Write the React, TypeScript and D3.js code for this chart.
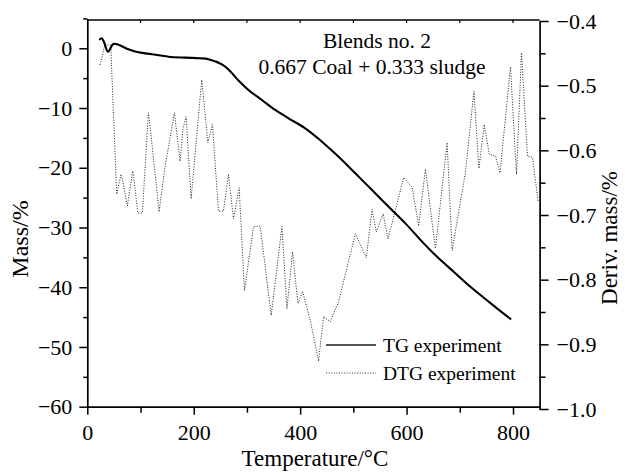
import React, { useEffect, useRef } from 'react';
import * as d3 from 'd3';

// TG experiment (mass %, left axis)
const tgTemp = [22.6, 27.1, 31.4, 38.9, 48.9, 58.3, 77.1, 96, 121.2, 152.4, 183.8, 212, 227.7, 252.9, 265.3, 284.1, 302.9, 328.1, 353.2, 378.2, 409.6, 441, 472.3, 503.7, 535.1, 566.3, 597.8, 632.2, 657.4, 688.6, 720, 766.3, 796.6];
const tgMass = [1.39, 1.67, 1.05, -0.57, 0.72, 0.6, -0.17, -0.67, -1.0, -1.41, -1.57, -1.67, -1.84, -2.7, -3.55, -5.4, -6.98, -8.66, -10.33, -11.72, -13.4, -15.64, -18.16, -20.94, -23.73, -26.53, -29.31, -32.66, -34.91, -37.42, -39.93, -43.28, -45.39];

// DTG experiment (deriv. mass %, right axis)
const dtgTemp = [24, 33, 44, 55.3, 63.4, 65.9, 75.3, 85.4, 88.4, 94.8, 103.5, 114.8, 118, 134.9, 146.2, 163.7, 174.4, 179.5, 185.7, 195.1, 212, 215.2, 226.5, 235.2, 246.5, 255.9, 265.3, 274.7, 285.4, 295.4, 312.3, 324.9, 345.6, 365.8, 375.2, 385.7, 395.9, 404.5, 419, 434.6, 444, 456.6, 472.3, 503.7, 524.4, 535.1, 543.2, 555.8, 565.2, 594.6, 610.4, 622.8, 635.4, 654.2, 676.2, 685.6, 710.6, 726.6, 736, 746, 755.4, 767.1, 775.6, 795.3, 806.6, 816, 827.3, 836.7, 847];
const dtgDeriv = [-0.468, -0.437, -0.437, -0.668, -0.637, -0.645, -0.686, -0.632, -0.649, -0.697, -0.697, -0.542, -0.563, -0.695, -0.625, -0.542, -0.617, -0.568, -0.548, -0.675, -0.518, -0.491, -0.588, -0.56, -0.694, -0.694, -0.637, -0.706, -0.658, -0.817, -0.718, -0.717, -0.855, -0.718, -0.845, -0.757, -0.837, -0.818, -0.863, -0.926, -0.857, -0.865, -0.834, -0.729, -0.766, -0.691, -0.726, -0.698, -0.737, -0.642, -0.657, -0.717, -0.629, -0.752, -0.588, -0.755, -0.634, -0.509, -0.628, -0.56, -0.606, -0.609, -0.635, -0.471, -0.637, -0.449, -0.609, -0.611, -0.678];

const xTicks = [0, 200, 400, 600, 800];
const xMinor = [100, 300, 500, 700];
const xTop = [100, 200, 300, 400, 500, 600, 700, 800];
const massTicks = [0, -10, -20, -30, -40, -50, -60];
const massMinor = [5, -5, -15, -25, -35, -45, -55];
const derivTicks = [-0.4, -0.5, -0.6, -0.7, -0.8, -0.9, -1.0];
const derivMinor = [-0.45, -0.55, -0.65, -0.75, -0.85, -0.95];

const titleLines = ['Blends no. 2', '0.667 Coal + 0.333 sludge'];
const legendLabels = ['TG experiment', 'DTG experiment'];

const FONT = '"Liberation Serif", "Times New Roman", serif';

export default function App() {
  const ref = useRef<SVGSVGElement>(null);

  useEffect(() => {
    const svg = d3.select(ref.current);
    svg.selectAll('*').remove();

    const x = d3.scaleLinear().domain([0, 850]).range([87.3, 539.6]);
    const yL = d3.scaleLinear().domain([-60, 5]).range([406.7, 18.4]);
    const yR = d3.scaleLinear().domain([-1.0, -0.4]).range([409, 21]);

    const styleAxis = (g: any, fs: number) => {
      g.selectAll('path').attr('stroke', '#000').attr('stroke-width', 1.7);
      g.selectAll('line').attr('stroke', '#000').attr('stroke-width', 1.5);
      g.selectAll('text').attr('font-family', FONT).attr('font-size', fs).attr('fill', '#000');
      g.attr('font-family', FONT);
    };

    // top frame
    svg.append('line')
      .attr('x1', x(0)).attr('x2', x(850))
      .attr('y1', 20).attr('y2', 20)
      .attr('stroke', '#000').attr('stroke-width', 1.7);
    svg.append('g').selectAll('line').data(xTop).join('line')
      .attr('x1', d => x(d)).attr('x2', d => x(d))
      .attr('y1', 20).attr('y2', 23)
      .attr('stroke', '#000').attr('stroke-width', 1.2);

    // bottom axis
    const gB = svg.append('g').attr('transform', 'translate(0,406.7)')
      .call(d3.axisBottom(x).tickValues(xTicks).tickSize(8).tickSizeOuter(0).tickPadding(9.5).tickFormat(d3.format('d')) as any);
    styleAxis(gB, 22);
    const gBm = svg.append('g').attr('transform', 'translate(0,406.7)')
      .call(d3.axisBottom(x).tickValues(xMinor).tickSize(6).tickFormat(() => '') as any);
    gBm.select('path').remove();
    styleAxis(gBm, 22);

    // left axis
    const gL = svg.append('g').attr('transform', `translate(${x(0)},0)`)
      .call(d3.axisLeft(yL).tickValues(massTicks).tickSize(8).tickSizeOuter(0).tickPadding(7).tickFormat(d3.format('d')) as any);
    styleAxis(gL, 22);
    const gLm = svg.append('g').attr('transform', `translate(${x(0)},0)`)
      .call(d3.axisLeft(yL).tickValues(massMinor).tickSize(4).tickFormat(() => '') as any);
    gLm.select('path').remove();
    styleAxis(gLm, 22);

    // right axis
    const gR = svg.append('g').attr('transform', `translate(${x(850)},0)`)
      .call(d3.axisRight(yR).tickValues(derivTicks).tickSize(9).tickSizeOuter(0).tickPadding(8).tickFormat(d3.format('.1f')) as any);
    styleAxis(gR, 22);
    const gRm = svg.append('g').attr('transform', `translate(${x(850)},0)`)
      .call(d3.axisRight(yR).tickValues(derivMinor).tickSize(6).tickFormat(() => '') as any);
    gRm.select('path').remove();
    styleAxis(gRm, 22);

    // DTG dotted line
    const dtgData = dtgTemp.map((t, i) => [t, dtgDeriv[i]] as [number, number]);
    svg.append('path')
      .attr('d', d3.line<[number, number]>().x(d => x(d[0])).y(d => yR(d[1])).curve(d3.curveLinear)(dtgData) as string)
      .attr('fill', 'none').attr('stroke', '#222').attr('stroke-width', 1)
      .attr('stroke-dasharray', '1,1.6');

    // TG solid line
    const tgData = tgTemp.map((t, i) => [t, tgMass[i]] as [number, number]);
    svg.append('path')
      .attr('d', d3.line<[number, number]>().x(d => x(d[0])).y(d => yL(d[1])).curve(d3.curveCatmullRom.alpha(0.5))(tgData) as string)
      .attr('fill', 'none').attr('stroke', '#000').attr('stroke-width', 2.1);

    // annotation
    svg.append('text').text(titleLines[0])
      .attr('x', 377).attr('y', 48).attr('text-anchor', 'middle')
      .attr('font-family', FONT).attr('font-size', 21.5).attr('fill', '#000');
    svg.append('text').text(titleLines[1])
      .attr('x', 372).attr('y', 74).attr('text-anchor', 'middle')
      .attr('font-family', FONT).attr('font-size', 21.5).attr('fill', '#000');

    // legend
    const leg = svg.append('g');
    leg.append('line').attr('x1', 326).attr('x2', 376).attr('y1', 345).attr('y2', 345)
      .attr('stroke', '#555').attr('stroke-width', 1.8);
    leg.append('line').attr('x1', 326).attr('x2', 376).attr('y1', 373).attr('y2', 373)
      .attr('stroke', '#333').attr('stroke-width', 1).attr('stroke-dasharray', '1,1.6');
    leg.append('text').text(legendLabels[0]).attr('x', 383).attr('y', 352)
      .attr('font-family', FONT).attr('font-size', 19.5).attr('fill', '#000');
    leg.append('text').text(legendLabels[1]).attr('x', 383).attr('y', 380)
      .attr('font-family', FONT).attr('font-size', 19.5).attr('fill', '#000');

    // axis titles
    svg.append('text').text('Temperature/°C')
      .attr('x', 315).attr('y', 466).attr('text-anchor', 'middle')
      .attr('font-family', FONT).attr('font-size', 23).attr('fill', '#000');
    svg.append('text').text('Mass/%')
      .attr('transform', 'translate(28,239) rotate(-90)').attr('text-anchor', 'middle')
      .attr('font-family', FONT).attr('font-size', 24).attr('fill', '#000');
    svg.append('text').text('Deriv. mass/%')
      .attr('transform', 'translate(617,238) rotate(-90)').attr('text-anchor', 'middle')
      .attr('font-family', FONT).attr('font-size', 23).attr('fill', '#000');
  }, []);

  return (
    <svg
      ref={ref}
      width={625}
      height={473}
      style={{ position: 'absolute', left: 0, top: 0, background: '#fff', display: 'block' }}
    />
  );
}
